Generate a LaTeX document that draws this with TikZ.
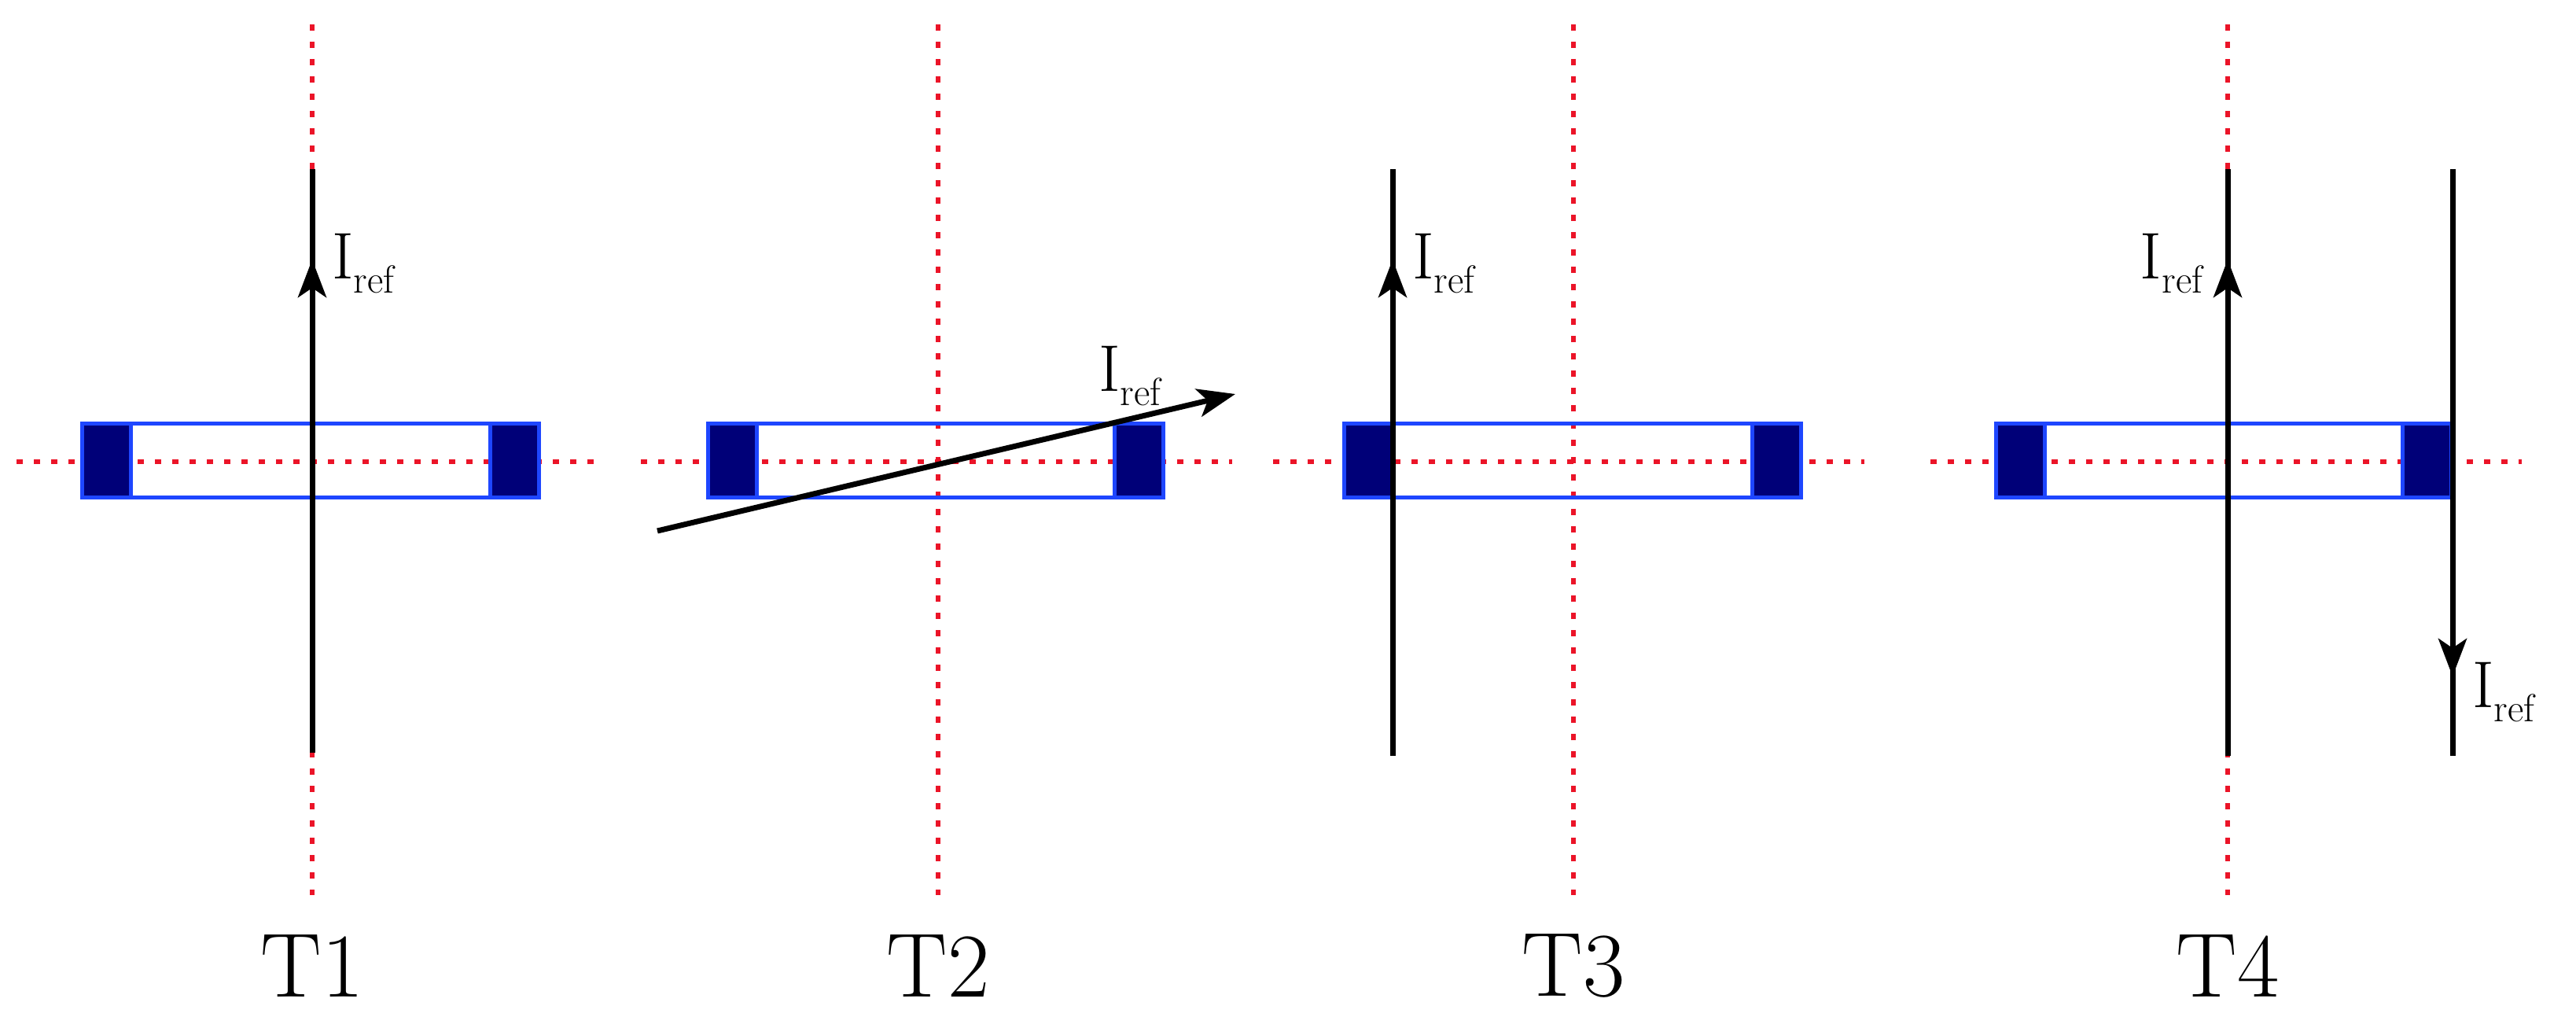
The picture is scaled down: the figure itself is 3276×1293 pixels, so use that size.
\documentclass[tikz,border=0pt]{standalone}
\usetikzlibrary{arrows.meta}
\definecolor{bblue}{RGB}{30,70,255}
\definecolor{navy}{RGB}{0,0,120}
\definecolor{dred}{RGB}{235,20,40}
\begin{document}
\begin{tikzpicture}[x=0.5pt,y=-0.5pt,
  axis/.style={dred,line width=3pt,dash pattern=on 4pt off 7pt},
  cur/.style={black,line width=3.5pt},
  arr/.style={cur,-{Stealth[length=24pt,width=18pt,inset=6pt]}},
  lbl/.style={font=\fontsize{42}{46}\selectfont},
  tl/.style={font=\fontsize{58}{64}\selectfont}]
\useasboundingbox (0,0) rectangle (3276,1293);
\foreach \cx in {397, 1193, 2001, 2833}{
  \draw[axis] (\cx,31) -- (\cx,1138);
}
\draw[axis] (21,587) -- (763,587);
\draw[axis] (815,587) -- (1567,587);
\draw[axis] (1619,587) -- (2371,587);
\draw[axis] (2455,587) -- (3207,587);
\foreach \bl/\br in {104/685, 900/1479, 1709/2290, 2538/3117}{
  \fill[navy] (\bl,539) rectangle (\bl+62,633);
  \fill[navy] (\br-62,539) rectangle (\br,633);
  \draw[bblue,line width=2.5pt] (\bl,539) rectangle (\br,633);
  \draw[bblue,line width=2.5pt] (\bl+62,539) -- (\bl+62,633) (\br-62,539) -- (\br-62,633);
}
% T1
\coordinate (a1s) at (397,957); \coordinate (a1m) at (397,330); \coordinate (a1e) at (397,215);
\draw[cur] (a1s) -- (a1e);
\draw[arr] (a1s) -- (a1m);
\node[lbl,anchor=west] (l1) at (415,335) {I$_{\mathrm{ref}}$};
\node[tl] (t1) at (397,1228) {T1};
% T2
\coordinate (a2s) at (836,675); \coordinate (a2e) at (1571,501);
\draw[arr] (a2s) -- (a2e);
\node[lbl,anchor=west] (l2) at (1390,478) {I$_{\mathrm{ref}}$};
\node[tl] (t2) at (1193,1228) {T2};
% T3
\coordinate (a3s) at (1771,961); \coordinate (a3m) at (1771,330); \coordinate (a3e) at (1771,215);
\draw[cur] (a3s) -- (a3e);
\draw[arr] (a3s) -- (a3m);
\node[lbl,anchor=west] (l3) at (1789,335) {I$_{\mathrm{ref}}$};
\node[tl] (t3) at (2001,1228) {T3};
% T4
\coordinate (a4s) at (2833,961); \coordinate (a4m) at (2833,330); \coordinate (a4e) at (2833,215);
\draw[cur] (a4s) -- (a4e);
\draw[arr] (a4s) -- (a4m);
\node[lbl,anchor=east] (l4) at (2812,335) {I$_{\mathrm{ref}}$};
\coordinate (b4s) at (3119,215); \coordinate (b4m) at (3119,860); \coordinate (b4e) at (3119,961);
\draw[cur] (b4s) -- (b4e);
\draw[arr] (b4s) -- (b4m);
\node[lbl,anchor=west] (l5) at (3137,880) {I$_{\mathrm{ref}}$};
\node[tl] (t4) at (2833,1228) {T4};
\end{tikzpicture}
\end{document}
